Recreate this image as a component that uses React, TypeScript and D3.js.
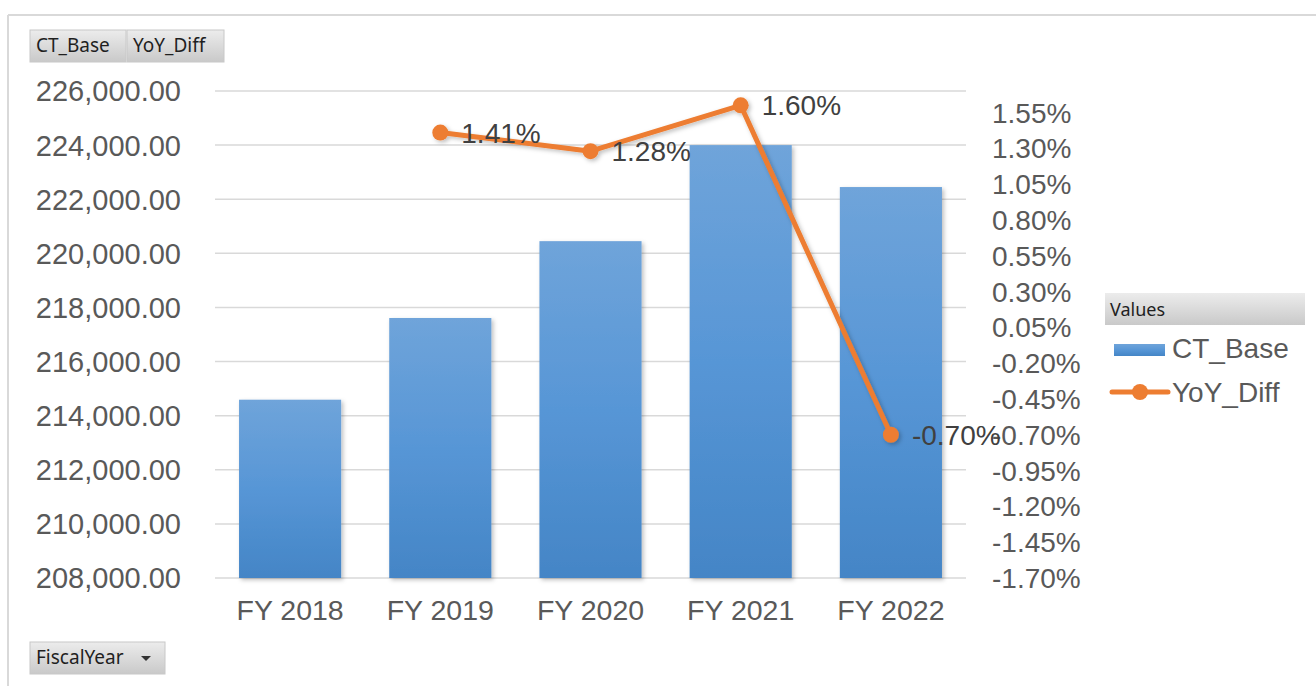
import React from "react";
import * as d3 from "d3";

const categories = ["FY 2018", "FY 2019", "FY 2020", "FY 2021", "FY 2022"];
const ctBase = [214590, 217610, 220450, 224000, 222450];
const yoyDiff: (number | null)[] = [null, 1.41, 1.28, 1.6, -0.7];
const yoyLabels = ["", "1.41%", "1.28%", "1.60%", "-0.70%"];
const leftTicks = [208000, 210000, 212000, 214000, 216000, 218000, 220000, 222000, 224000, 226000];
const rightTicks = [-1.7, -1.45, -1.2, -0.95, -0.7, -0.45, -0.2, 0.05, 0.3, 0.55, 0.8, 1.05, 1.3, 1.55];

const W = 1316;
const H = 686;
const FONT = "'Liberation Sans', Arial, sans-serif";
const UI_FONT = "'Noto Sans', 'Open Sans', sans-serif";
const TEXT = "#595959";

export default function App() {
  const plotL = 215, plotR = 966, plotT = 91, plotB = 578;
  const x = d3.scaleBand<string>().domain(categories).range([plotL, plotR]).paddingInner(0.32).paddingOuter(0.16);
  const yL = d3.scaleLinear().domain([208000, 226000]).range([plotB, plotT]);
  const yR = d3.scaleLinear().domain([-1.7, 1.7]).range([plotB, plotT]);
  const fmtL = d3.format(",.2f");
  const fmtR = (v: number) => (v < 0 ? "-" : "") + Math.abs(v).toFixed(2) + "%";

  const pts = categories
    .map((c, i) => ({ c, v: yoyDiff[i], i }))
    .filter((d) => d.v !== null) as { c: string; v: number; i: number }[];
  const line = d3
    .line<{ c: string; v: number }>()
    .x((d) => (x(d.c) as number) + x.bandwidth() / 2)
    .y((d) => yR(d.v));

  const button = (bx: number, by: number, bw: number, label: string, key: string, arrow = false) => (
    <g key={key}>
      <rect x={bx} y={by} width={bw} height={32} fill="url(#btnGrad)" stroke="#c8c8c8" strokeWidth={1} />
      <text x={bx + 6} y={by + 22} fontFamily={UI_FONT} fontSize={19} fill="#1f1f1f">{label}</text>
      {arrow && <path d={`M${bx + bw - 24},${by + 14} l10,0 l-5,5 z`} fill="#333" />}
    </g>
  );

  return (
    <svg width={W} height={H} style={{ position: "absolute", left: 0, top: 0, background: "#fff" }}>
      <defs>
        <linearGradient id="barGrad" x1="0" y1="0" x2="0" y2="1">
          <stop offset="0%" stopColor="#6fa4da" />
          <stop offset="50%" stopColor="#5796d6" />
          <stop offset="100%" stopColor="#4485c6" />
        </linearGradient>
        <linearGradient id="btnGrad" x1="0" y1="0" x2="0" y2="1">
          <stop offset="0%" stopColor="#ececec" />
          <stop offset="100%" stopColor="#c9c9c9" />
        </linearGradient>
        <filter id="shadow" x="-10%" y="-10%" width="130%" height="130%">
          <feDropShadow dx="2" dy="2" stdDeviation="2" floodColor="#000" floodOpacity="0.25" />
        </filter>
      </defs>
      {/* outer frame */}
      <line x1={8} y1={15} x2={W} y2={15} stroke="#d9d9d9" strokeWidth={2} />
      <line x1={8} y1={15} x2={8} y2={H} stroke="#d9d9d9" strokeWidth={2} />

      {/* gridlines */}
      {leftTicks.map((t) => (
        <line key={"g" + t} x1={plotL} x2={plotR} y1={yL(t)} y2={yL(t)} stroke="#d9d9d9" strokeWidth={1.5} />
      ))}

      {/* bars */}
      {categories.map((c, i) => (
        <rect
          key={c}
          x={x(c)}
          y={yL(ctBase[i])}
          width={x.bandwidth()}
          height={plotB - yL(ctBase[i])}
          fill="url(#barGrad)"
          filter="url(#shadow)"
        />
      ))}

      {/* left axis labels */}
      {leftTicks.map((t) => (
        <text key={"l" + t} x={181} y={yL(t)} dy="0.36em" textAnchor="end" fontFamily={FONT} fontSize={29} fill={TEXT}>
          {fmtL(t)}
        </text>
      ))}
      {/* right axis labels */}
      {rightTicks.map((t) => (
        <text key={"r" + t} x={992} y={yR(t)} dy="0.36em" textAnchor="start" fontFamily={FONT} fontSize={28} fill={TEXT}>
          {fmtR(t)}
        </text>
      ))}
      {/* x labels */}
      {categories.map((c) => (
        <text key={"x" + c} x={(x(c) as number) + x.bandwidth() / 2} y={620} textAnchor="middle" fontFamily={FONT} fontSize={28.5} fill={TEXT}>
          {c}
        </text>
      ))}

      {/* line */}
      <g filter="url(#shadow)">
        <path d={line(pts) || ""} fill="none" stroke="#ed7d31" strokeWidth={5} strokeLinejoin="round" />
        {pts.map((p) => (
          <circle key={"p" + p.c} cx={(x(p.c) as number) + x.bandwidth() / 2} cy={yR(p.v)} r={8} fill="#ed7d31" />
        ))}
      </g>
      {pts.map((p) => (
        <text
          key={"dl" + p.c}
          x={(x(p.c) as number) + x.bandwidth() / 2 + 21}
          y={yR(p.v)}
          dy="0.36em"
          fontFamily={FONT}
          fontSize={28}
          fill="#404040"
        >
          {yoyLabels[p.i]}
        </text>
      ))}

      {/* legend */}
      <rect x={1105} y={293} width={200} height={32} fill="url(#btnGrad)" />
      <text x={1110} y={316} fontFamily={UI_FONT} fontSize={18} fill="#1f1f1f">Values</text>
      <rect x={1114} y={344} width={51} height={12} fill="url(#barGrad)" />
      <text x={1172} y={348} dy="0.36em" fontFamily={FONT} fontSize={28} fill={TEXT}>CT_Base</text>
      <line x1={1112} x2={1168} y1={392} y2={392} stroke="#ed7d31" strokeWidth={5} strokeLinecap="round" />
      <circle cx={1140} cy={392} r={8} fill="#ed7d31" />
      <text x={1172} y={392} dy="0.36em" fontFamily={FONT} fontSize={28} fill={TEXT}>YoY_Diff</text>

      {/* field buttons */}
      {button(30, 30, 96, "CT_Base", "b1")}
      {button(127, 30, 97, "YoY_Diff", "b2")}
      {button(30, 642, 135, "FiscalYear", "b3", true)}
    </svg>
  );
}
